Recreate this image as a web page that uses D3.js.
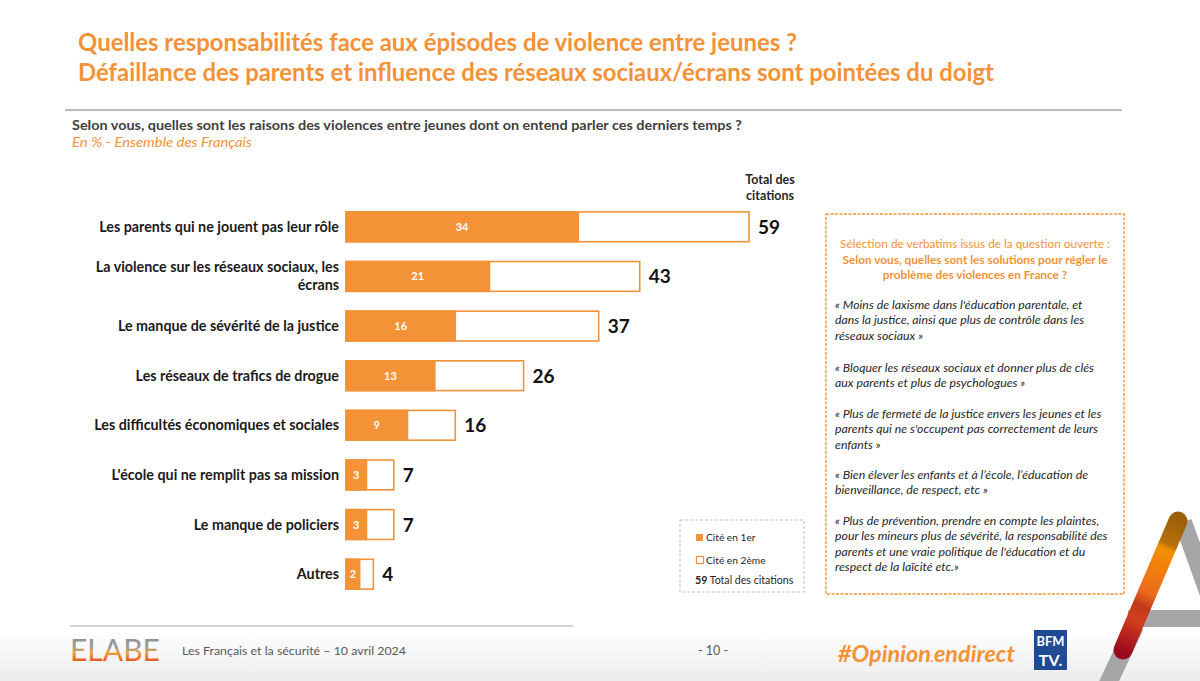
<!DOCTYPE html>
<html><head><meta charset="utf-8">
<script src="https://cdn.jsdelivr.net/npm/d3@7"></script>
<style>
html,body{margin:0;padding:0;background:#fff;}
svg{display:block;font-family:Lato,"Open Sans",sans-serif;}
</style></head>
<body>
<svg id="c" width="1200" height="681"></svg>
<script>
// ---- data ----
const categories = [
  "Les parents qui ne jouent pas leur rôle",
  "La violence sur les réseaux sociaux, les\nécrans",
  "Le manque de sévérité de la justice",
  "Les réseaux de trafics de drogue",
  "Les difficultés économiques et sociales",
  "L'école qui ne remplit pas sa mission",
  "Le manque de policiers",
  "Autres"
];
const citeEn1er = [34, 21, 16, 13, 9, 3, 3, 2];
const totalCitations = [59, 43, 37, 26, 16, 7, 7, 4];
const legendLabels = ["Cité en 1er", "Cité en 2ème", "Total des citations"];
const titleLines = [
  "Quelles responsabilités face aux épisodes de violence entre jeunes ?",
  "Défaillance des parents et influence des réseaux sociaux/écrans sont pointées du doigt"
];
const question = "Selon vous, quelles sont les raisons des violences entre jeunes dont on entend parler ces derniers temps ?";
const baseNote = "En % - Ensemble des Français";
const verbatimHead = ["Sélection de verbatims issus de la question ouverte :",
  "Selon vous, quelles sont les solutions pour régler le",
  "problème des violences en France ?"];
const verbatims = [
  ["« Moins de laxisme dans l'éducation parentale, et", "dans la justice, ainsi que plus de contrôle dans les", "réseaux sociaux »"],
  ["« Bloquer les réseaux sociaux et donner plus de clés", "aux parents et plus de psychologues »"],
  ["« Plus de fermeté de la justice envers les jeunes et les", "parents qui ne s'occupent pas correctement de leurs", "enfants »"],
  ["« Bien élever les enfants et à l’école, l’éducation de", "bienveillance, de respect, etc »"],
  ["« Plus de prévention, prendre en compte les plaintes,", "pour les mineurs plus de sévérité, la responsabilité des", "parents et une vraie politique de l'éducation et du", "respect de la laïcité etc.»"]
];
const footerText = "Les Français et la sécurité – 10 avril 2024";
const pageNum = "- 10 -";

// ---- drawing ----
const ORANGE = "#F39237";
const svg = d3.select("#c");
const defs = svg.append("defs");

function fit(sel, w) { sel.attr("textLength", w).attr("lengthAdjust", "spacingAndGlyphs"); return sel; }

// footer background shading
const fg = defs.append("linearGradient").attr("id","fbg").attr("x1",0).attr("y1",0).attr("x2",0).attr("y2",1);
fg.append("stop").attr("offset","0").attr("stop-color","#ffffff");
fg.append("stop").attr("offset","1").attr("stop-color","#ececec");
svg.append("rect").attr("x",0).attr("y",630).attr("width",1200).attr("height",51).attr("fill","url(#fbg)");

// titles
titleLines.forEach((t,i)=>{
  fit(svg.append("text").attr("x",78).attr("y",51+i*30).attr("font-size",24).attr("font-weight","bold")
    .attr("fill",ORANGE).text(t), i===0 ? 719 : 916);
});
svg.append("line").attr("x1",65).attr("x2",1122).attr("y1",110).attr("y2",110).attr("stroke","#A6A6A6").attr("stroke-width",1.5);
fit(svg.append("text").attr("x",72).attr("y",130).attr("font-size",13.5).attr("font-weight","bold").attr("fill","#404040").text(question),670);
fit(svg.append("text").attr("x",72).attr("y",147).attr("font-size",13).attr("font-style","italic").attr("fill",ORANGE).text(baseNote),180);

// scales
const x = d3.scaleLinear().domain([0, 59]).range([346, 749]);
const y = d3.scaleBand().domain(categories).range([202, 599]).paddingInner(0.4).paddingOuter(0.2);

const rows = categories.map((c,i)=>({c, first: citeEn1er[i], total: totalCitations[i]}));
const g = svg.append("g");
const row = g.selectAll("g.row").data(rows).join("g").attr("class","row");
row.append("rect").attr("x",x(0)).attr("y",d=>y(d.c)).attr("width",d=>x(d.total)-x(0)).attr("height",y.bandwidth())
  .attr("fill","#fff").attr("stroke",ORANGE).attr("stroke-width",1.6);
row.append("rect").attr("x",x(0)).attr("y",d=>y(d.c)).attr("width",d=>x(d.first)-x(0)).attr("height",y.bandwidth())
  .attr("fill",ORANGE).attr("stroke",ORANGE).attr("stroke-width",1.6);
row.append("text").attr("x",d=>(x(0)+x(d.first))/2).attr("y",d=>y(d.c)+y.bandwidth()/2+4)
  .attr("text-anchor","middle").attr("font-size",11).attr("font-weight","bold").attr("fill","#fff").text(d=>d.first);
row.append("text").attr("x",d=>x(d.total)+9).attr("y",d=>y(d.c)+y.bandwidth()/2+7)
  .attr("font-size",19).attr("font-weight","bold").attr("fill","#111").text(d=>d.total);
row.each(function(d){
  const lines = d.c.split("\n");
  const cy = y(d.c)+y.bandwidth()/2;
  const t = d3.select(this).append("text").attr("text-anchor","end").attr("font-size",14.3).attr("font-weight","bold").attr("fill","#1a1a1a");
  lines.forEach((l,k)=>{
    t.append("tspan").attr("x",339).attr("y",cy+5+(k-(lines.length-1)/2)*18).text(l);
  });
});

// "Total des citations" header
["Total des","citations"].forEach((t,i)=>{
  svg.append("text").attr("x",770).attr("y",184+i*16).attr("text-anchor","middle").attr("font-size",12.5)
    .attr("font-weight","bold").attr("fill","#262626").text(t);
});

// legend
svg.append("rect").attr("x",680).attr("y",520).attr("width",124).attr("height",72).attr("fill","#fff")
  .attr("stroke","#BFBFBF").attr("stroke-dasharray","3,2").attr("stroke-width",1);
svg.append("rect").attr("x",696).attr("y",534).attr("width",7).attr("height",7).attr("fill",ORANGE);
svg.append("rect").attr("x",696.5).attr("y",556.5).attr("width",7).attr("height",7).attr("fill","#fff").attr("stroke",ORANGE).attr("stroke-width",1.2);
svg.append("text").attr("x",706).attr("y",541).attr("font-size",10.2).attr("fill","#262626").text(legendLabels[0]);
svg.append("text").attr("x",706).attr("y",564).attr("font-size",10.2).attr("fill","#262626").text(legendLabels[1]);
svg.append("text").attr("x",695).attr("y",584).attr("font-size",10.6).attr("fill","#262626")
  .call(t=>{t.append("tspan").attr("font-weight","bold").text(totalCitations[0]); t.append("tspan").text(" "+legendLabels[2]);});

// verbatim box
svg.append("rect").attr("x",826).attr("y",214).attr("width",298).attr("height",380).attr("fill","none")
  .attr("stroke",ORANGE).attr("stroke-width",1.4).attr("stroke-dasharray","3,1.5");
verbatimHead.forEach((t,i)=>{
  svg.append("text").attr("x",975).attr("y",248+i*15.5).attr("text-anchor","middle").attr("font-size",11.8)
    .attr("font-weight", i===0 ? "normal" : "bold").attr("fill",ORANGE).text(t);
});
const quoteStarts = [309, 372, 418, 479, 525];
verbatims.forEach((q,i)=>{
  q.forEach((l,k)=>{
    svg.append("text").attr("x",835).attr("y",quoteStarts[i]+k*15.3).attr("font-size",12.3).attr("font-style","italic")
      .attr("fill","#262626").text(l);
  });
});

// decorative A (right)
svg.append("line").attr("x1",1183).attr("y1",522).attr("x2",1240).attr("y2",681).attr("stroke","#A6A6A6").attr("stroke-width",18);
svg.append("line").attr("x1",1135).attr("y1",626).attr("x2",1105).attr("y2",690).attr("stroke","#A6A6A6").attr("stroke-width",18);
svg.append("rect").attr("x",1128).attr("y",610).attr("width",72).attr("height",17).attr("fill","#A6A6A6");
const ag = defs.append("linearGradient").attr("id","ag").attr("gradientUnits","userSpaceOnUse")
  .attr("x1",1178).attr("y1",520).attr("x2",1122).attr("y2",652);
[["0","#9C6008"],["0.18","#B87008"],["0.22","#F29100"],["0.55","#EC6A1E"],["0.65","#C03A1A"],["0.75","#D2401E"],["1","#9A0A1C"]]
  .forEach(s=>ag.append("stop").attr("offset",s[0]).attr("stop-color",s[1]));
svg.append("line").attr("x1",1178).attr("y1",521).attr("x2",1123).attr("y2",650).attr("stroke","url(#ag)")
  .attr("stroke-width",19).attr("stroke-linecap","round");

// footer
svg.append("line").attr("x1",70).attr("x2",573).attr("y1",626).attr("y2",626).attr("stroke","#A6A6A6").attr("stroke-width",1.2);
const lg = defs.append("linearGradient").attr("id","lg").attr("x1",0).attr("y1",0).attr("x2",0).attr("y2",1);
[["0","#8C8C8C"],["0.45","#9a9a9a"],["0.6","#F0A030"],["1","#D8281C"]].forEach(s=>lg.append("stop").attr("offset",s[0]).attr("stop-color",s[1]));
fit(svg.append("text").attr("x",70).attr("y",661).attr("font-size",30).attr("font-weight","normal").attr("fill","url(#lg)").text("ELABE"),90);
fit(svg.append("text").attr("x",182).attr("y",655).attr("font-size",12).attr("fill","#595959").text(footerText),224);
svg.append("text").attr("x",713).attr("y",655).attr("text-anchor","middle").attr("font-size",12.5).attr("fill","#595959").text(pageNum);
fit(svg.append("text").attr("x",838).attr("y",662).attr("font-size",22).attr("font-weight","bold").attr("font-style","italic")
  .attr("fill",ORANGE).call(t=>{t.append("tspan").text("#Opinion"); t.append("tspan").attr("font-size",12).text("."); t.append("tspan").text("endirect");}),177);
// BFM TV logo
svg.append("rect").attr("x",1034).attr("y",630).attr("width",33).attr("height",40).attr("fill","#1F4B92");
fit(svg.append("text").attr("x",1050.5).attr("y",646).attr("text-anchor","middle").attr("font-size",14).attr("font-weight","bold").attr("fill","#fff").text("BFM"),28);
fit(svg.append("text").attr("x",1050.5).attr("y",666).attr("text-anchor","middle").attr("font-size",16).attr("font-weight","bold").attr("fill","#fff").text("TV."),24);
</script>
</body></html>
